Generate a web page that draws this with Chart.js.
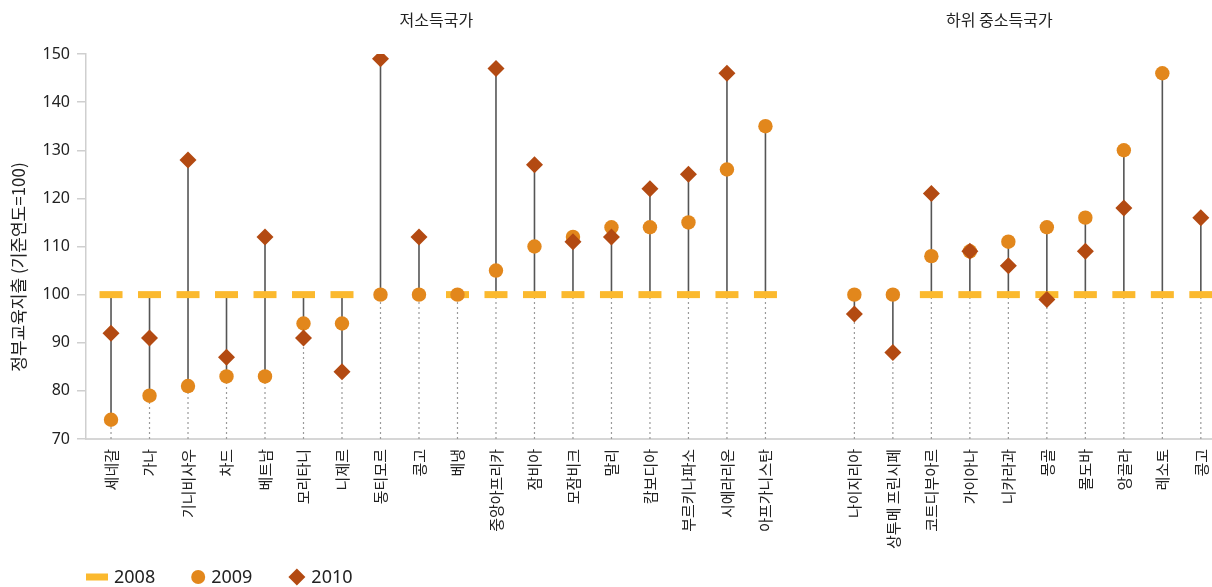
<!DOCTYPE html>
<html>
<head>
<meta charset="utf-8">
<script src="https://cdn.jsdelivr.net/npm/chart.js@4.4.1/dist/chart.umd.min.js"></script>
<style>
  html, body { margin: 0; padding: 0; background: #fff; }
  #wrap { width: 1212px; height: 587px; position: relative; }
</style>
</head>
<body>
<div id="wrap"><canvas id="chart"></canvas></div>
<script>
// 저소득국가
const lowIncome = ['세네갈', '가나', '기니비사우', '차드', '베트남', '모리타니', '니제르', '동티모르', '콩고', '베냉',
    '중앙아프리카', '잠비아', '모잠비크', '말리', '캄보디아', '부르키나파소', '시에라리온', '아프가니스탄'];
const low2008 = [100, 100, 100, 100, 100, 100, 100, null, null, 100, 100, 100, 100, 100, 100, 100, 100, 100];
const low2009 = [74, 79, 81, 83, 83, 94, 94, 100, 100, 100, 105, 110, 112, 114, 114, 115, 126, 135];
const low2010 = [92, 91, 128, 87, 112, 91, 84, 149, 112, null, 147, 127, 111, 112, 122, 125, 146, null];

// 하위 중소득국가
const lowerMiddle = ['나이지리아', '상투메 프린시페', '코트디부아르', '가이아나', '니카라과', '몽골', '몰도바', '앙골라', '레소토', '콩고'];
const mid2008 = [null, null, 100, 100, 100, 100, 100, 100, 100, 100];
const mid2009 = [100, 100, 108, 109, 111, 114, 116, 130, 146, null];
const mid2010 = [96, 88, 121, 109, 106, 99, 109, 118, null, 116];

const groupTitles = ['저소득국가', '하위 중소득국가'];
const seriesNames = ['2008', '2009', '2010'];
const yTitle = '정부교육지출 (기준연도=100)';

const COLORS = { y2008: '#FBB92E', y2009: '#E2871C', y2010: '#B34A12' };
const KR = '"Noto Sans CJK KR", "Noto Sans", sans-serif';
const NUM = '"Noto Sans", sans-serif';
const TEXT = '#222';
const GROUP_GAP = 2.31; // space between the two groups, in category widths

// category positions on a linear x axis
const names = lowIncome.concat(lowerMiddle);
const xs = lowIncome.map((_, i) => i)
    .concat(lowerMiddle.map((_, i) => lowIncome.length - 1 + GROUP_GAP + i));
const all2008 = low2008.concat(mid2008);
const all2009 = low2009.concat(mid2009);
const all2010 = low2010.concat(mid2010);

function toPoints(vals) {
    return vals.map((v, i) => v == null ? null : { x: xs[i], y: v }).filter(p => p);
}

// stems and dotted guides, drawn under the markers
const stems = {
    id: 'stems',
    beforeDatasetsDraw(chart) {
        const { ctx, chartArea, scales: { x, y } } = chart;
        ctx.save();
        xs.forEach((xv, i) => {
            const vals = [all2008[i], all2009[i], all2010[i]].filter(v => v != null);
            const lo = Math.min(...vals);
            const hi = Math.max(...vals);
            const px = x.getPixelForValue(xv);
            ctx.setLineDash([2, 3]);
            ctx.strokeStyle = '#9a9a9a';
            ctx.lineWidth = 1.2;
            ctx.beginPath();
            ctx.moveTo(px, chartArea.bottom);
            ctx.lineTo(px, y.getPixelForValue(lo));
            ctx.stroke();
            if (hi > lo) {
                ctx.setLineDash([]);
                ctx.strokeStyle = '#555';
                ctx.lineWidth = 1.6;
                ctx.beginPath();
                ctx.moveTo(px, y.getPixelForValue(lo));
                ctx.lineTo(px, y.getPixelForValue(hi));
                ctx.stroke();
            }
        });
        ctx.restore();
    }
};

// group titles, y title and legend
const decorations = {
    id: 'decorations',
    afterDraw(chart) {
        const { ctx, chartArea, scales: { x } } = chart;
        ctx.save();
        ctx.fillStyle = TEXT;
        ctx.textBaseline = 'middle';

        // group titles centred over each panel
        const split = x.getPixelForValue(lowIncome.length - 1 + 0.55);
        ctx.font = '16px ' + KR;
        ctx.textAlign = 'center';
        ctx.fillText(groupTitles[0], (chartArea.left + split) / 2, 20);
        ctx.fillText(groupTitles[1], (split + chartArea.right) / 2, 20);

        // y axis title
        ctx.save();
        ctx.translate(19, 267);
        ctx.rotate(-Math.PI / 2);
        ctx.font = '17px ' + KR;
        ctx.fillText(yTitle, 0, 0);
        ctx.restore();

        // legend
        const ly = 577;
        let lx = chartArea.left;
        ctx.textAlign = 'left';
        ctx.font = '18px ' + NUM;
        seriesNames.forEach((name, k) => {
            let w;
            if (k === 0) {
                w = 22;
                ctx.fillStyle = COLORS.y2008;
                ctx.fillRect(lx, ly - 3.5, w, 7);
            } else if (k === 1) {
                w = 14;
                ctx.fillStyle = COLORS.y2009;
                ctx.beginPath();
                ctx.arc(lx + 7, ly, 7, 0, Math.PI * 2);
                ctx.fill();
            } else {
                w = 17;
                ctx.fillStyle = COLORS.y2010;
                ctx.beginPath();
                ctx.moveTo(lx + 8.5, ly - 8.5);
                ctx.lineTo(lx + 17, ly);
                ctx.lineTo(lx + 8.5, ly + 8.5);
                ctx.lineTo(lx, ly);
                ctx.closePath();
                ctx.fill();
            }
            lx += w + 6;
            ctx.fillStyle = TEXT;
            ctx.fillText(name, lx, ly + 1);
            lx += ctx.measureText(name).width + 36;
        });
        ctx.restore();
    }
};

const ctx = document.getElementById('chart').getContext('2d');
new Chart(ctx, {
    type: 'scatter',
    data: {
        datasets: [
            {
                label: seriesNames[0],
                data: toPoints(all2008),
                pointStyle: 'line',
                pointRadius: 11.5,
                pointBorderWidth: 7,
                borderColor: COLORS.y2008,
                backgroundColor: COLORS.y2008,
                order: 3
            },
            {
                label: seriesNames[1],
                data: toPoints(all2009),
                pointStyle: 'circle',
                pointRadius: 7.2,
                pointBorderWidth: 0,
                backgroundColor: COLORS.y2009,
                borderColor: COLORS.y2009,
                order: 2
            },
            {
                label: seriesNames[2],
                data: toPoints(all2010),
                pointStyle: 'rectRot',
                pointRadius: 8.5,
                pointBorderWidth: 0,
                backgroundColor: COLORS.y2010,
                borderColor: COLORS.y2010,
                order: 1
            }
        ]
    },
    options: {
        responsive: true,
        maintainAspectRatio: false,
        devicePixelRatio: 1,
        animation: false,
        layout: { autoPadding: false, padding: { top: 54, left: 0, right: 0, bottom: 0 } },
        plugins: {
            legend: { display: false },
            tooltip: { enabled: false }
        },
        scales: {
            x: {
                type: 'linear',
                min: -0.65,
                max: xs[xs.length - 1] + 0.29,
                afterBuildTicks: scale => { scale.ticks = xs.map(v => ({ value: v })); },
                afterFit: scale => {
                    scale.height = 148;
                    scale.paddingLeft = 0;
                    scale.paddingRight = 0;
                },
                ticks: {
                    autoSkip: false,
                    minRotation: 90,
                    maxRotation: 90,
                    padding: 10,
                    color: TEXT,
                    font: { size: 15, family: KR },
                    callback: (value, index) => names[index]
                },
                grid: { display: false, drawTicks: false, tickLength: 0 },
                border: { display: true, color: '#d6d6d6', width: 2 }
            },
            y: {
                min: 70,
                max: 150,
                afterFit: scale => { scale.width = 86; },
                ticks: {
                    stepSize: 10,
                    padding: 7,
                    color: TEXT,
                    font: { size: 16, family: NUM }
                },
                grid: { drawOnChartArea: false, drawTicks: true, tickLength: 9, color: '#cfcfcf', lineWidth: 1.5 },
                border: { display: true, color: '#cfcfcf', width: 1.5 }
            }
        }
    },
    plugins: [stems, decorations]
});
</script>
</body>
</html>
